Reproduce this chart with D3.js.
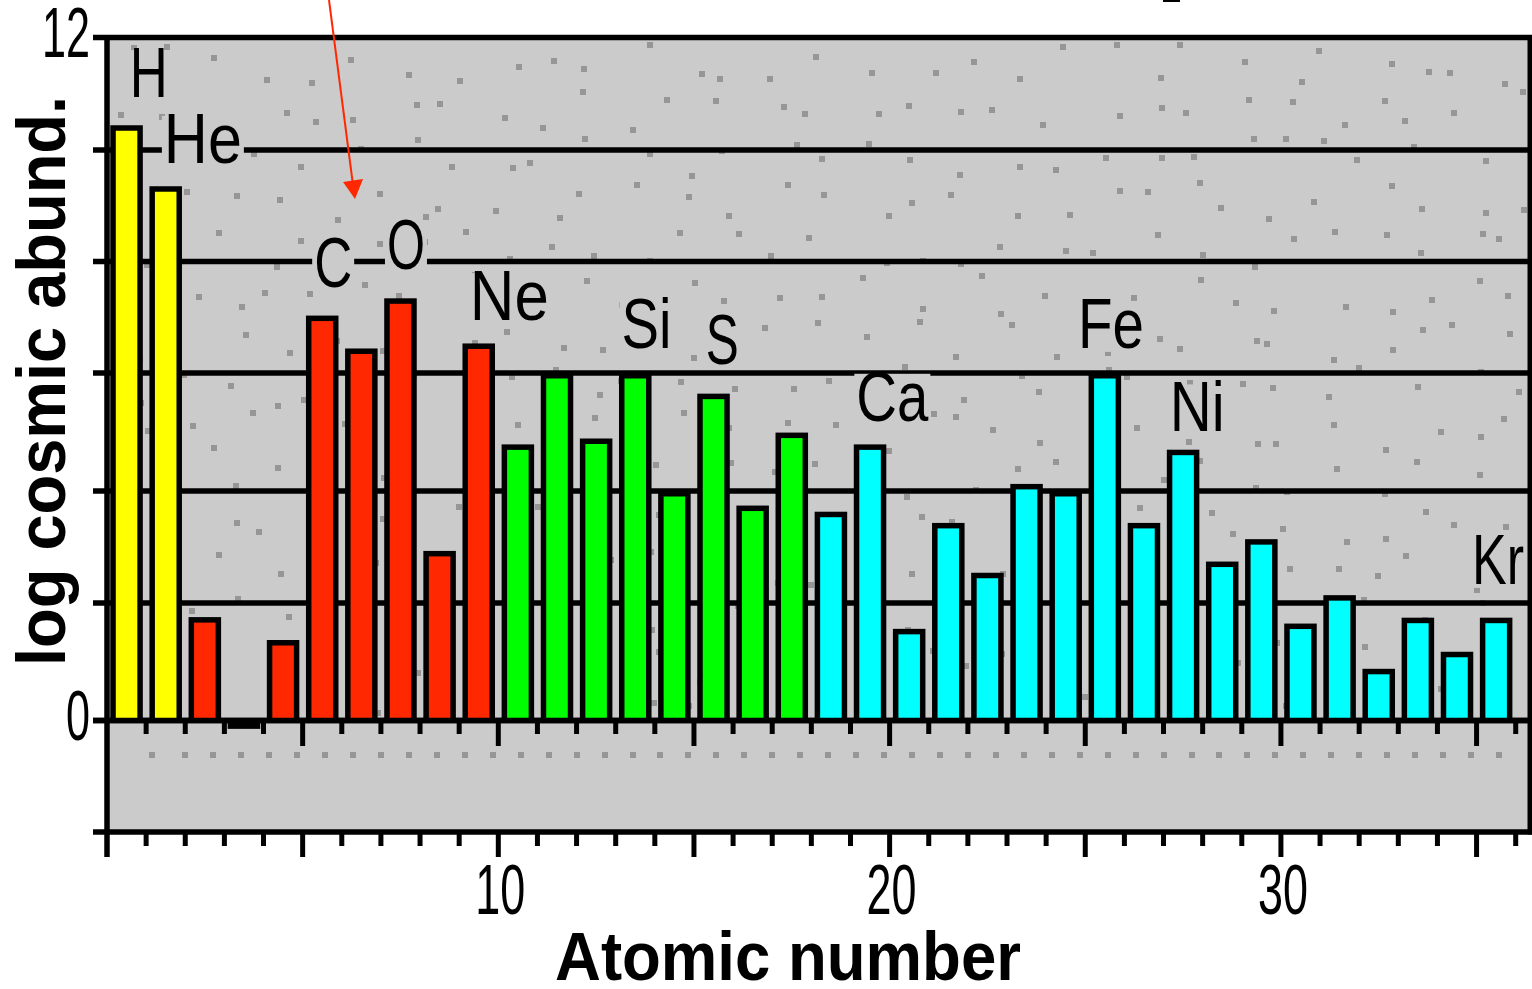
<!DOCTYPE html>
<html lang="en">
<head>
<meta charset="utf-8">
<title>log cosmic abundance by atomic number</title>
<script src="https://d3js.org/d3.v7.min.js"></script>
<style>
  body { margin: 0; background: #fff; }
  text { font-family: "Liberation Sans", Arial, sans-serif; fill: #000; }
</style>
</head>
<body>
<script>
// element symbols, Z = 1..36
const elements = ["H","He","Li","Be","B","C","N","O","F","Ne",
                  "Na","Mg","Al","Si","P","S","Cl","Ar",
                  "K","Ca","Sc","Ti","V","Cr","Mn","Fe","Co","Ni","Cu","Zn","Ga","Ge","As","Se","Br","Kr"];
// log cosmic abundance
const abundance = [10.44, 9.35, 1.76, -0.15, 1.37, 7.03, 6.44, 7.34, 2.93, 6.53,
                   4.79, 6.0, 4.89, 6.0, 4.0, 5.65, 3.74, 4.99,
                   3.63, 4.79, 1.56, 3.43, 2.54, 4.12, 4.0, 6.0, 3.43, 4.70, 2.74, 3.14, 1.65, 2.14, 0.88, 1.75, 1.17, 1.75];
// colour groups (last Z of each group)
const groupEnd = [2, 10, 18, 36];
const groupColor = ["#ffff00", "#ff2800", "#00ff00", "#00ffff"];
// axis ticks
const yGrid = [-2, 0, 2, 4, 6, 8, 10, 12];
const yLabels = [0, 12];
const xLabels = [10, 20, 30];
const xMax = 36;

// labelled elements (text, centre in Z units, baseline in abundance units)
const labelText = ["H","He","C","O","Ne","Si","S","Ca","Fe","Ni","Kr"];
const labelZ    = [1.07, 2.45, 5.78, 7.64, 10.28, 13.79, 15.72, 20.07, 25.66, 27.86, 35.55];
const labelVal  = [10.94, 9.77, 7.55, 7.86, 6.95, 6.45, 6.16, 5.19, 6.45, 5.01, 2.34];
const labelW    = [38, 78, 38, 38, 79, 50, 33, 72, 66, 55, 52];

const width = 1532, height = 989;
const svg = d3.select("body").append("svg")
    .attr("width", width)
    .attr("height", height);

// scales (the y grid of the original is slightly uneven, so polylinear)
const x = d3.scaleLinear().domain([0, xMax]).range([107, 1515.7]);
const y = d3.scaleLinear().domain(yGrid).range([832, 720.5, 603, 491, 373, 261.5, 150, 37.5]);
const right = 1530;
const lw = 5.5; // line weight of the pixel art

//plot background
svg.append("rect")
    .attr("x", x(0)).attr("y", y(12))
    .attr("width", right - x(0)).attr("height", y(-2) - y(12))
    .attr("fill", "#cbcbcb");

// speckle texture, decoration only: one dot per 46px cell, seeded jitter
const rnd = d3.randomLcg(0.37);
const cell = 46;
const speck = [];
d3.range(31).forEach(c => d3.range(15).forEach(r => {
    speck.push([112 + c * cell + Math.floor(rnd() * 40), 42 + r * cell + Math.floor(rnd() * 40)]);
}));
svg.append("g").selectAll("rect")
    .data(speck.filter(d => d[0] < 1522 && d[1] < 712))
    .join("rect")
    .attr("x", d => d[0])
    .attr("y", d => d[1])
    .attr("width", 6).attr("height", 6)
    .attr("shape-rendering", "crispEdges")
    .attr("fill", "#969696");

// row of dots below zero
const dotRow = [152].concat(d3.range(48).map(k => 185.3 + k * 27.95));
svg.append("g").selectAll("rect")
    .data(dotRow)
    .join("rect")
    .attr("x", d => Math.round(d - 3)).attr("y", 752)
    .attr("width", 6).attr("height", 6)
    .attr("shape-rendering", "crispEdges")
    .attr("fill", "#969696");

// grid lines
svg.append("g").selectAll("line")
    .data(yGrid)
    .join("line")
    .attr("x1", 93).attr("x2", right + 2)
    .attr("y1", d => y(d)).attr("y2", d => y(d))
    .attr("stroke", "#000").attr("stroke-width", lw);

// bars
const colorOf = i => groupColor[groupEnd.findIndex(e => i + 1 <= e)];
const step = x(1) - x(0);
const gap = 3.3;
const bars = svg.append("g");
bars.selectAll("rect.outer")
    .data(abundance)
    .join("rect")
    .attr("class", "outer")
    .attr("x", (d, i) => x(i) + gap)
    .attr("width", step - 2 * gap)
    .attr("y", d => Math.min(y(d), y(0)))
    .attr("height", d => Math.abs(y(0) - y(d)))
    .attr("fill", "#000");
bars.selectAll("rect.inner")
    .data(abundance)
    .join("rect")
    .attr("class", "inner")
    .attr("x", (d, i) => x(i) + gap + lw)
    .attr("width", step - 2 * gap - 2 * lw)
    .attr("y", d => y(d) + lw)
    .attr("height", d => Math.max(0, y(0) - y(d) - lw))
    .attr("fill", (d, i) => colorOf(i));

// zero line on top of the bars
svg.append("line")
    .attr("x1", 93).attr("x2", right + 2)
    .attr("y1", y(0)).attr("y2", y(0))
    .attr("stroke", "#000").attr("stroke-width", lw);

// left axis
svg.append("line")
    .attr("x1", x(0)).attr("x2", x(0))
    .attr("y1", y(12) - 2.5).attr("y2", 857)
    .attr("stroke", "#000").attr("stroke-width", lw);

// x ticks under the zero line and under the frame
const xt = d3.range(1, xMax + 1);
const ticks = svg.append("g");
ticks.selectAll("line.z")
    .data(xt)
    .join("line")
    .attr("class", "z")
    .attr("x1", d => x(d)).attr("x2", d => x(d))
    .attr("y1", y(0)).attr("y2", d => d % 5 === 0 ? 746 : 734)
    .attr("stroke", "#000").attr("stroke-width", 5);
ticks.selectAll("line.b")
    .data(xt)
    .join("line")
    .attr("class", "b")
    .attr("x1", d => x(d)).attr("x2", d => x(d))
    .attr("y1", y(-2)).attr("y2", d => d % 5 === 0 ? 857 : 846)
    .attr("stroke", "#000").attr("stroke-width", 5);

// tick labels
svg.append("g").selectAll("text")
    .data(xLabels)
    .join("text")
    .attr("x", d => x(d) + 2).attr("y", 914)
    .attr("text-anchor", "middle")
    .attr("font-size", 70)
    .attr("textLength", 50).attr("lengthAdjust", "spacingAndGlyphs")
    .text(d => d);
svg.append("g").selectAll("text")
    .data(yLabels)
    .join("text")
    .attr("x", 90).attr("y", d => y(d) + 19)
    .attr("text-anchor", "end")
    .attr("font-size", 70)
    .attr("textLength", d => String(d).length * 24).attr("lengthAdjust", "spacingAndGlyphs")
    .text(d => d);

// element labels with a plot coloured backing
const lab = svg.append("g");
labelText.forEach((t, i) => {
    const cx = x(labelZ[i]), by = y(labelVal[i]);
    lab.append("rect")
        .attr("x", cx - labelW[i] / 2 - 2).attr("y", by - 47)
        .attr("width", labelW[i] + 4).attr("height", 51)
        .attr("fill", "#cbcbcb");
    lab.append("text")
        .attr("x", cx).attr("y", by)
        .attr("text-anchor", "middle")
        .attr("font-size", 70)
        .attr("textLength", labelW[i]).attr("lengthAdjust", "spacingAndGlyphs")
        .text(t);
});

// right frame
svg.append("line")
    .attr("x1", right).attr("x2", right)
    .attr("y1", y(12) - 2.5).attr("y2", y(-2) + 2.5)
    .attr("stroke", "#000").attr("stroke-width", 5);

// axis titles
svg.append("text")
    .attr("x", 788).attr("y", 980)
    .attr("text-anchor", "middle")
    .attr("font-size", 68).attr("font-weight", "bold")
    .attr("textLength", 466).attr("lengthAdjust", "spacingAndGlyphs")
    .text("Atomic number");
svg.append("text")
    .attr("transform", "translate(65,381) rotate(-90)")
    .attr("text-anchor", "middle")
    .attr("font-size", 68).attr("font-weight", "bold")
    .attr("textLength", 570).attr("lengthAdjust", "spacingAndGlyphs")
    .text("log cosmic abund.");

// red pointer coming in from above
svg.append("line")
    .attr("x1", 329).attr("y1", 0).attr("x2", 353).attr("y2", 185)
    .attr("stroke", "#ff2800").attr("stroke-width", 2);
svg.append("path")
    .attr("d", "M343,182 L363,179 L355,199 Z")
    .attr("fill", "#ff2800");

// clipped bit of text at the very top
svg.append("rect")
    .attr("x", 1163).attr("y", 0).attr("width", 17).attr("height", 2)
    .attr("fill", "#000");
</script>
</body>
</html>
